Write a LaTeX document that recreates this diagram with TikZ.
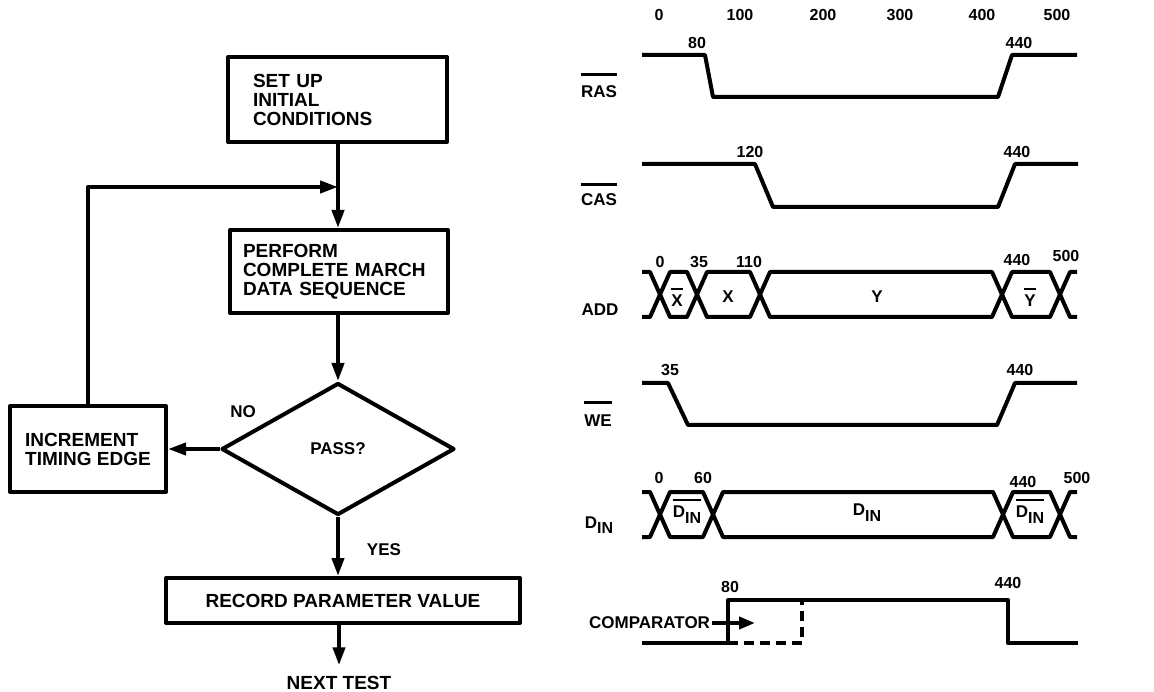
\documentclass[tikz,border=0pt]{standalone}
\usepackage{fontspec}
\setmainfont{Liberation Sans}
\usetikzlibrary{shapes.geometric,arrows.meta,positioning}

\newcommand{\sigbar}[2][1.3em]{{\setbox0=\hbox{#2}\rlap{\rule[#1]{\wd0}{2.6pt}}\box0}}
\newcommand{\din}{D\raisebox{-0.35em}{\fontsize{16}{16}\selectfont IN}}

\begin{document}
\begin{tikzpicture}[x=1pt, y=-1pt, line width=4pt, line join=round,
    font=\bfseries\fontsize{17}{19}\selectfont,
    box/.style={draw, rectangle, inner sep=0pt, font=\bfseries\fontsize{19}{19}\selectfont},
    arr/.style={-{Triangle[length=18pt,width=12pt]}},
    tick/.style={inner sep=0pt, font=\bfseries\fontsize{16}{16}\selectfont},
    lbl/.style={inner sep=0pt}]
    \useasboundingbox (0,0) rectangle (1154,692);
    % flowchart
    \node[box, minimum width=219pt, minimum height=85pt, text width=169pt, align=left] (setup) at (337.5,99.5) {SET UP\\INITIAL\\CONDITIONS};
    \node[box, minimum width=218pt, minimum height=83pt, text width=192pt, align=left] (march) at (339,271.5) {PERFORM\\COMPLETE MARCH\\DATA SEQUENCE};
    \node[box, diamond, minimum width=233pt, minimum height=132pt, font=\bfseries\fontsize{17}{17}\selectfont] (pass) at (338,449) {PASS?};
    \node[box, minimum width=156pt, minimum height=86pt, align=left] (incr) at (88,449) {INCREMENT\\TIMING EDGE};
    \node[box, minimum width=354pt, minimum height=45pt] (record) at (343,600.5) {RECORD PARAMETER VALUE};
    \node[lbl, font=\bfseries\fontsize{19}{19}\selectfont] (next) at (339,683) {NEXT TEST};
    \coordinate (join) at (338,187);
    \node[lbl] (no) at (243,412) {NO};
    \node[lbl] (yes) at (384,550) {YES};
    \draw[arr] (setup.south -| join) -- (march.north -| join);
    \draw[arr] (incr.north) |- (join);
    \draw[arr] (march.south -| pass.north) -- (pass.north);
    \draw[arr] (pass.west) -- (incr.east);
    \draw[arr] (pass.south) -- (record.north -| pass.south);
    \draw[arr] (record.south -| next) -- ([yshift=9pt]next.north);
    % time scale
    \foreach \t/\x in {0/659,100/740,200/823,300/900,400/982,500/1057}
        \node[tick] (s\t) at (\x,15) {\t};
    % RAS
    \node[lbl, anchor=base] (ras) at (599,98) {\sigbar{RAS}};
    \draw (642,55) -- (705,55) -- (713,97) -- (998,97) -- (1012,55) -- (1077,55);
    \node[tick] (ras80) at (697,43) {80};
    \node[tick] (ras440) at (1019,43) {440};
    % CAS
    \node[lbl, anchor=base] (cas) at (599,206) {\sigbar[1.2em]{CAS}};
    \draw (642,164) -- (755,164) -- (773,207) -- (998,207) -- (1015,164) -- (1078,164);
    \node[tick] (cas120) at (750,152) {120};
    \node[tick] (cas440) at (1017,152) {440};
    % ADD
    \node[lbl, anchor=base] (add) at (600,316) {ADD};
    \draw (642,272) -- (650,272) -- (660,294.5) -- (650,317) -- (642,317);
    \foreach \a/\b in {660/697,697/760,760/1002,1002/1060}
        \draw (\a,294.5) -- (\a+10,272) -- (\b-10,272) -- (\b,294.5) -- (\b-10,317) -- (\a+10,317) -- cycle;
    \draw (1077,272) -- (1070,272) -- (1060,294.5) -- (1070,317) -- (1077,317);
    \node[lbl] (xinv) at (677,297) {\sigbar[0.95em]{X}};
    \node[lbl] (xadd) at (728,297) {X};
    \node[lbl] (yadd) at (877,297) {Y};
    \node[lbl] (yinv) at (1030,297) {\sigbar[0.95em]{Y}};
    \node[tick] (add0) at (660,262) {0};
    \node[tick] (add35) at (699,262) {35};
    \node[tick] (add110) at (749,262) {110};
    \node[tick] (add440) at (1017,260) {440};
    \node[tick] (add500) at (1066,256) {500};
    % WE
    \node[lbl, anchor=base] (we) at (598,426) {\sigbar{WE}};
    \draw (642,383) -- (668,383) -- (688,425) -- (997,425) -- (1015,383) -- (1077,383);
    \node[tick] (we35) at (670,370) {35};
    \node[tick] (we440) at (1020,370) {440};
    % D IN
    \node[lbl, anchor=base] (dinlbl) at (599,528) {\din};
    \draw (642,492) -- (650,492) -- (660,514.5) -- (650,537) -- (642,537);
    \foreach \a/\b in {660/713,713/1003,1003/1060}
        \draw (\a,514.5) -- (\a+10,492) -- (\b-10,492) -- (\b,514.5) -- (\b-10,537) -- (\a+10,537) -- cycle;
    \draw (1077,492) -- (1070,492) -- (1060,514.5) -- (1070,537) -- (1077,537);
    \node[lbl] (dinv1) at (687,511) {\sigbar[0.95em]{\din}};
    \node[lbl] (dmid) at (867,513) {\din};
    \node[lbl] (dinv2) at (1030,511) {\sigbar[0.95em]{\din}};
    \node[tick] (din0) at (659,478) {0};
    \node[tick] (din60) at (703,478) {60};
    \node[tick] (din440) at (1023,482) {440};
    \node[tick] (din500) at (1077,478) {500};
    % comparator
    \draw (642,643) -- (728,643) -- (728,600) -- (1008,600) -- (1008,643) -- (1078,643);
    \draw[dashed, dash pattern=on 10pt off 6pt] (728,643) -- (802,643) -- (802,600);
    \node[tick] (cmp80) at (730,587) {80};
    \node[tick] (cmp440) at (1008,583) {440};
    \node[lbl, anchor=east] (cmp) at (712,623) {COMPARATOR};
    \coordinate (cmptip) at (755,623);
    \draw[-{Triangle[length=16pt,width=12pt]}] (cmp.east) -- (cmptip);
\end{tikzpicture}
\end{document}
